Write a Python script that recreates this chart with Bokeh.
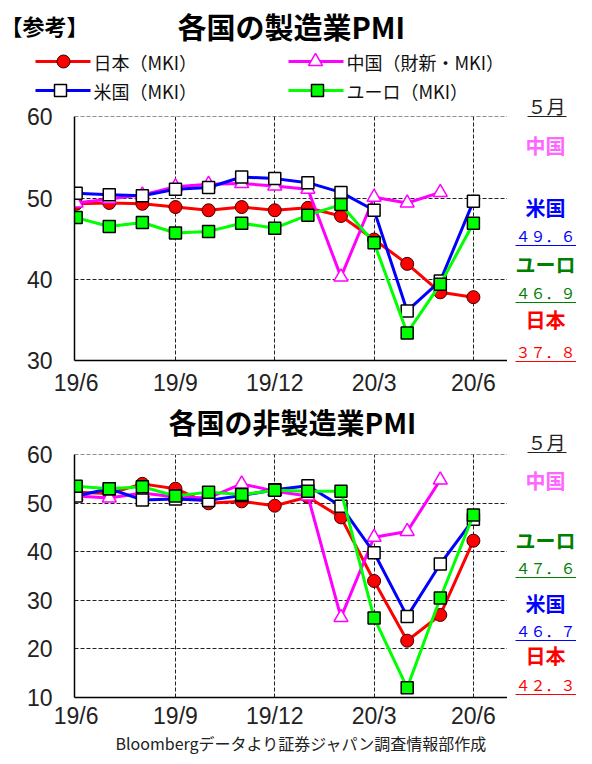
from bokeh.plotting import figure
from bokeh.layouts import column, row
from bokeh.models import Range1d, FixedTicker
from bokeh.embed import file_html
from bokeh.resources import INLINE
from bokeh.core.properties import value

# ---------------- data ----------------
months = ["19/6", "19/7", "19/8", "19/9", "19/10", "19/11", "19/12",
          "20/1", "20/2", "20/3", "20/4", "20/5", "20/6"]
tick_idx = [0, 3, 6, 9, 12]
vgrid_idx = [3, 6, 9, 12]

series_names = ["日本（MKI）", "中国（財新・MKI）", "米国（MKI）", "ユーロ（MKI）"]

mfg_japan = [49.3, 49.4, 49.3, 48.9, 48.5, 48.9, 48.5, 48.8, 47.8, 44.9, 41.9, 38.4, 37.8]
mfg_china = [49.4, 49.9, 50.4, 51.4, 51.7, 51.8, 51.5, 51.1, 40.3, 50.1, 49.4, 50.7]
mfg_us    = [50.6, 50.4, 50.3, 51.1, 51.3, 52.6, 52.4, 51.9, 50.7, 48.5, 36.1, 39.8, 49.6]
mfg_euro  = [47.6, 46.5, 47.0, 45.7, 45.9, 46.9, 46.3, 47.9, 49.2, 44.5, 33.4, 39.4, 46.9]

svc_japan = [52.3, 52.0, 54.0, 53.0, 50.0, 50.4, 49.5, 51.3, 47.1, 34.0, 21.7, 27.0, 42.3]
svc_china = [51.5, 51.1, 52.1, 51.3, 51.1, 54.0, 52.5, 51.5, 26.5, 43.0, 44.2, 54.8]
svc_us    = [51.5, 53.0, 50.7, 50.9, 50.6, 51.6, 52.8, 53.6, 49.4, 39.8, 26.7, 37.5, 46.7]
svc_euro  = [53.5, 53.0, 53.4, 51.5, 52.3, 51.8, 52.7, 52.5, 52.5, 26.4, 12.0, 30.5, 47.6]

mfg_yticks = [30, 40, 50, 60]
svc_yticks = [10, 20, 30, 40, 50, 60]

title_mfg = "各国の製造業PMI"
title_svc = "各国の非製造業PMI"
source_note = "Bloombergデータより証券ジャパン調査情報部作成"

CJK = value("Noto Sans CJK JP")
NUM_FONT = "Liberation Sans"

RED, MAG, BLUE, LIME = "#ff0000", "#ff00ff", "#0000ff", "#00ff00"
GREEN_TXT = "#008000"
PINK_TXT = "#ff66ff"
LINE_COLORS = {"japan": RED, "china": MAG, "us": BLUE, "euro": LIME}

FRAME_LEFT, FRAME_W = 74, 433
XMIN, XMAX = -0.05, 13.03


def fullwidth(v):
    return f"{v:.1f}".translate(str.maketrans("0123456789.", "０１２３４５６７８９．"))


def draw_marker(p, x, y, kind):
    if kind == "japan":
        p.scatter(x, y, marker="circle", size=13, fill_color=RED, line_color="#3a0000", line_width=1)
    elif kind == "china":
        p.scatter(x, y, marker="triangle", size=14, fill_color="white", line_color=MAG, line_width=1.5)
    elif kind == "us":
        p.scatter(x, y, marker="square", size=12, fill_color="white", line_color="black", line_width=1.5)
    else:
        p.scatter(x, y, marker="square", size=12, fill_color=LIME, line_color="black", line_width=1.5)


def make_chart(jp, cn, us, eu, ymin, ymax, yticks, frame_h, btop, bbot, standoff):
    p = figure(output_backend="svg", toolbar_location=None,
               frame_width=FRAME_W, frame_height=frame_h,
               x_range=Range1d(XMIN, XMAX), y_range=Range1d(ymin, ymax + 0.05),
               min_border_left=FRAME_LEFT, min_border_right=0,
               min_border_top=btop, min_border_bottom=bbot)
    p.outline_line_color = None
    p.background_fill_color = "white"
    p.border_fill_color = "white"
    p.xaxis.ticker = FixedTicker(ticks=tick_idx)
    p.xaxis.major_label_overrides = {i: months[i] for i in tick_idx}
    p.yaxis.ticker = FixedTicker(ticks=yticks)
    for ax in (p.xaxis, p.yaxis):
        ax.axis_line_color = "black"
        ax.axis_line_width = 1.5
        ax.major_tick_line_color = None
        ax.minor_tick_line_color = None
        ax.major_tick_in = 0
        ax.major_tick_out = 0
        ax.minor_tick_in = 0
        ax.minor_tick_out = 0
        ax.major_label_text_font = NUM_FONT
        ax.major_label_text_font_size = "23px"
        ax.major_label_text_color = "#222222"
    p.yaxis.major_label_standoff = 22
    p.xaxis.major_label_standoff = standoff
    for g in (p.xgrid, p.ygrid):
        g.grid_line_color = "#222222"
        g.grid_line_dash = "4 2"
        g.grid_line_width = 1
    p.xgrid.ticker = FixedTicker(ticks=vgrid_idx)
    p.ygrid.ticker = FixedTicker(ticks=yticks)
    for kind, ys in (("japan", jp), ("china", cn), ("us", us), ("euro", eu)):
        xs = list(range(len(ys)))
        p.line(xs, ys, line_color=LINE_COLORS[kind], line_width=3)
        draw_marker(p, xs, ys, kind)
    return p


def canvas(x0, x1, y0, y1):
    p = figure(output_backend="svg", toolbar_location=None,
               width=x1 - x0, height=y1 - y0,
               x_range=Range1d(x0, x1), y_range=Range1d(y1, y0),
               x_axis_type=None, y_axis_type=None, min_border=0)
    p.outline_line_color = None
    p.grid.visible = False
    p.background_fill_color = "white"
    p.border_fill_color = "white"
    return p


# ---------------- header (left part, page coords) ----------------
hdr = canvas(0, 507, 0, 104)
hdr.text(x=[0], y=[24], text=["【参考】"], text_font=CJK, text_font_size="22px",
         text_font_style="bold", text_baseline="middle", text_color="black")
hdr.text(x=[177], y=[25], text=[title_mfg], text_font=CJK, text_font_size="29px",
         text_font_style="bold", text_baseline="middle", text_color="black")

leg_specs = [
    (series_names[0], "japan", 61, 35, 90, 63),
    (series_names[1], "china", 61, 288, 343, 315),
    (series_names[2], "us", 90, 35, 90, 60),
    (series_names[3], "euro", 90, 288, 343, 317),
]
for name, kind, y, x0, x1, mx in leg_specs:
    hdr.line([x0, x1], [y, y], line_color=LINE_COLORS[kind], line_width=3)
    draw_marker(hdr, [mx], [y], kind)
    hdr.text(x=[x1 + 3], y=[y], text=[name], text_font=CJK, text_font_size="18px",
             text_baseline="middle", text_color="#111111")

# ---------------- charts ----------------
f1 = make_chart(mfg_japan, mfg_china, mfg_us, mfg_euro, 30, 60, mfg_yticks, 244, 12, 35, 9)

t2 = canvas(0, 507, 395, 439)
t2.text(x=[168], y=[418], text=[title_svc], text_font=CJK, text_font_size="28px",
        text_font_style="bold", text_baseline="middle", text_color="black")

f2 = make_chart(svc_japan, svc_china, svc_us, svc_euro, 10, 60, svc_yticks, 243, 12, 31, 5)

ftr = canvas(0, 507, 725, 748)
ftr.text(x=[115], y=[736.5], text=[source_note], text_font=CJK, text_font_size="16px",
         text_baseline="middle", text_color="#222222")

# ---------------- side panel (page coords) ----------------
side = canvas(507, 576, 0, 748)
CX = 545


def side_block(p, month_y, entries):
    p.text(x=[CX + 1], y=[month_y], text=["５月"], text_font=CJK, text_font_size="19px",
           text_align="center", text_baseline="middle", text_color="#222222")
    p.segment(x0=[527], y0=[month_y + 11], x1=[566], y1=[month_y + 11], line_color="#222222", line_width=1)
    for label, color, ly, val, vy in entries:
        p.text(x=[CX], y=[ly], text=[label], text_font=CJK, text_font_size="20px",
               text_font_style="bold", text_align="center", text_baseline="middle", text_color=color)
        if val is not None:
            p.text(x=[CX], y=[vy], text=[fullwidth(val)], text_font=CJK, text_font_size="15px",
                   text_align="center", text_baseline="middle", text_color=color)
            p.segment(x0=[515], y0=[vy + 10], x1=[576], y1=[vy + 10], line_color=color, line_width=1.2)


side_block(side, 105, [
    ("中国", PINK_TXT, 145, None, None),
    ("米国", BLUE, 207, mfg_us[-1], 235),
    ("ユーロ", GREEN_TXT, 264, mfg_euro[-1], 292),
    ("日本", RED, 319, mfg_japan[-1], 351),
])
side_block(side, 441, [
    ("中国", PINK_TXT, 480, None, None),
    ("ユーロ", GREEN_TXT, 540, svc_euro[-1], 567),
    ("米国", BLUE, 603, svc_us[-1], 630),
    ("日本", RED, 655, svc_japan[-1], 684),
])

# wrap the text canvases so that the column does not align their frames to the charts
left = column(row(hdr), f1, row(t2), f2, row(ftr))
layout = row(left, side)
open("out.html", "w").write(file_html(layout, INLINE))
